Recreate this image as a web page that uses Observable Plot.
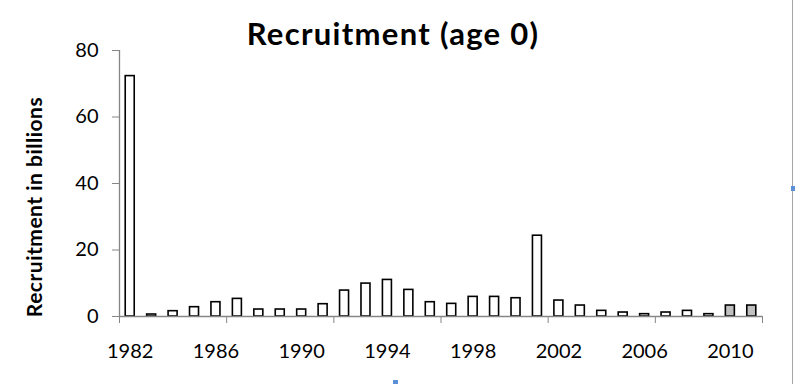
<!DOCTYPE html>
<html><head><meta charset="utf-8">
<script src="https://cdn.jsdelivr.net/npm/d3@7"></script>
<script src="https://cdn.jsdelivr.net/npm/@observablehq/plot@0.6"></script>
<style>
body{margin:0;background:#fff;}
#wrap{position:relative;width:796px;height:384px;overflow:hidden;background:#fff;}
#title{position:absolute;left:0;top:15px;width:786px;text-align:center;font:bold 31px Lato,sans-serif;letter-spacing:1.3px;color:#000;line-height:37px;}
#ylab{position:absolute;left:33px;top:207px;transform:translate(-50%,-50%) rotate(-90deg);white-space:nowrap;font:bold 21px Lato,sans-serif;letter-spacing:0.5px;color:#000;}
#edge{position:absolute;left:792px;top:0;width:1px;height:384px;background:#a6a6a6;}
.h{position:absolute;width:4px;height:5px;background:#5b8fd6;}
#chart{position:absolute;left:0;top:0;}
</style></head>
<body>
<div id="wrap">
<div id="chart"></div>
<div id="title">Recruitment (age 0)</div>
<div id="ylab">Recruitment in billions</div>
<div id="edge"></div>
<div class="h" style="left:791px;top:186px;"></div>
<div class="h" style="left:393px;top:380px;width:5px;height:4px;"></div>
</div>
<script>
const years = [1982,1983,1984,1985,1986,1987,1988,1989,1990,1991,1992,1993,1994,1995,1996,1997,1998,1999,2000,2001,2002,2003,2004,2005,2006,2007,2008,2009,2010,2011];
const recruitment = [72.3,0.6,1.6,2.8,4.3,5.3,2.1,2.1,2.1,3.7,7.8,9.9,11.0,8.0,4.3,3.8,5.9,5.9,5.5,24.3,4.8,3.3,1.7,1.2,0.7,1.2,1.7,0.7,3.3,3.3];
const estimatedYears = [2010,2011];
const yTicks = [0,20,40,60,80];
const xLabelYears = [1982,1986,1990,1994,1998,2002,2006,2010];
const xBoundaryTicks = [1981.5,1986.5,1991.5,1996.5,2001.5,2006.5,2011.5];

const data = years.map((y,i)=>({year:y, value:recruitment[i], est: estimatedYears.includes(y)}));
const half = 0.21;
const axisColor = "#868686";

const chart = Plot.plot({
  width: 796,
  height: 384,
  marginLeft: 119,
  marginRight: 34,
  marginTop: 50,
  marginBottom: 68,
  style: {fontFamily: "Lato, sans-serif", fontSize: "20px", background: "transparent", color: "#000"},
  x: {type: "linear", domain: [1981.5, 2011.5], axis: null},
  y: {domain: [0, 80], axis: null},
  marks: [
    Plot.rectY(data, {x1: d=>d.year-half, x2: d=>d.year+half, y1: 0, y2: "value",
      fill: d=>d.est ? "#c0c0c0" : "#ffffff", stroke: "#000", strokeWidth: 1.6}),
    Plot.ruleY([0], {x1: 1981.5, x2: 2011.5, stroke: axisColor, strokeWidth: 1.3}),
    Plot.ruleX([1981.5], {y1: 0, y2: 80, stroke: axisColor, strokeWidth: 1.3}),
    Plot.axisY({ticks: yTicks, tickSize: 7, tickPadding: 14, stroke: axisColor, fill: "#000", label: null, tickFormat: d=>String(d), fontSize: 20}),
    Plot.axisX({ticks: xBoundaryTicks, tickSize: 7, stroke: axisColor, tickFormat: ()=>"", label: null}),
    Plot.axisX({ticks: xLabelYears, tickSize: 0, tickPadding: 27, fill: "#000", tickFormat: d=>String(d), label: null, fontSize: 20})
  ]
});
document.getElementById("chart").appendChild(chart);
</script>
</body></html>
